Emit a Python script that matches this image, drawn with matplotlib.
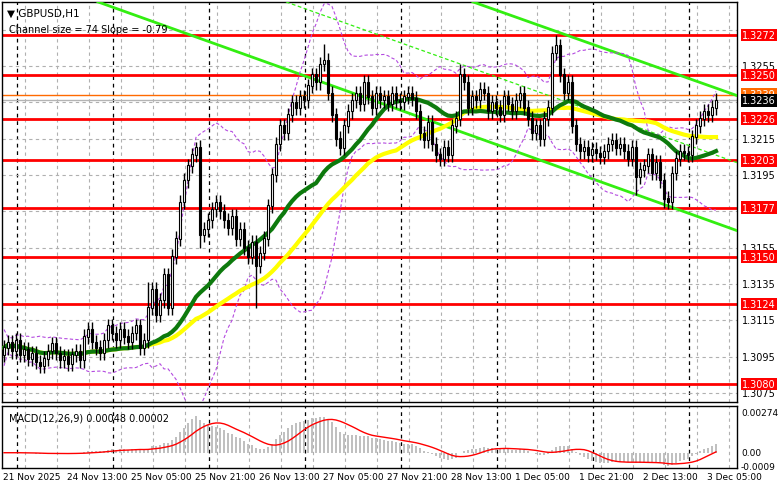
import matplotlib
matplotlib.use('Agg')
import matplotlib.pyplot as plt
import matplotlib.transforms as mtransforms
import numpy as np
import pandas as pd

# hourly closes, GBPUSD H1
closes = [
    1.3100, 1.3103, 1.3098, 1.3104, 1.3096, 1.3099, 1.3094, 1.3097, 1.3092, 1.3090,
    1.3094, 1.3098, 1.3102, 1.3097, 1.3093, 1.3095, 1.3091, 1.3096, 1.3098, 1.3093,
    1.3106, 1.3110, 1.3103, 1.3100, 1.3097, 1.3104, 1.3112, 1.3108, 1.3104, 1.3110,
    1.3106, 1.3103, 1.3108, 1.3112, 1.3100, 1.3104,
    1.3122, 1.3132, 1.3118, 1.3126, 1.3140, 1.3122, 1.3150, 1.3160,
    1.3180, 1.3192, 1.3200, 1.3206, 1.3210, 1.3162,
    1.3165, 1.3170, 1.3176, 1.3180, 1.3175, 1.3170, 1.3166,
    1.3172, 1.3160, 1.3165, 1.3155, 1.3150, 1.3158, 1.3145, 1.3152, 1.3160,
    1.3178, 1.3195, 1.3212, 1.3222, 1.3218, 1.3228, 1.3235,
    1.3232, 1.3238, 1.3236, 1.3244, 1.3250, 1.3246, 1.3256, 1.3258,
    1.3240, 1.3228, 1.3215, 1.3210, 1.3222, 1.3230,
    1.3236, 1.3240, 1.3234, 1.3246, 1.3238, 1.3232, 1.3240, 1.3236, 1.3238, 1.3234,
    1.3240, 1.3236, 1.3235, 1.3238, 1.3240, 1.3237, 1.3230, 1.3218, 1.3214, 1.3224,
    1.3212, 1.3206, 1.3204, 1.3210, 1.3206, 1.3222, 1.3226,
    1.3250, 1.3246, 1.3232,
    1.3238, 1.3236, 1.3242, 1.3240, 1.3230, 1.3235, 1.3232, 1.3228, 1.3238, 1.3234,
    1.3230, 1.3236, 1.3240,
    1.3232, 1.3226, 1.3218, 1.3222, 1.3215, 1.3226, 1.3232,
    1.3262, 1.3266,
    1.3250, 1.3240, 1.3246, 1.3222, 1.3212,
    1.3208, 1.3210, 1.3206, 1.3209, 1.3207, 1.3205, 1.3208,
    1.3212, 1.3214, 1.3210, 1.3212, 1.3208, 1.3204, 1.3210,
    1.3194, 1.3198, 1.3200, 1.3206, 1.3196, 1.3202, 1.3192,
    1.3182, 1.3180, 1.3196, 1.3204, 1.3208,
    1.3207, 1.3206, 1.3216, 1.3222, 1.3226, 1.3230, 1.3228, 1.3232, 1.3236,
]
first_open = 1.3096
wick = 0.0004
# notable wicks: bar index -> (high, low)
spikes = {48: (1.3213, None), 49: (None, 1.3155), 63: (None, 1.3122),
          80: (1.3267, None), 114: (1.3256, None), 138: (1.3272, None),
          158: (None, 1.3184), 165: (None, 1.3177), 36: (1.3136, None)}

levels = [1.3272, 1.3250, 1.3226, 1.3203, 1.3177, 1.3150, 1.3124, 1.3080]
axis_ticks = [1.3275, 1.3255, 1.3235, 1.3215, 1.3195, 1.3175, 1.3155, 1.3135, 1.3115, 1.3095, 1.3075]
axis_labels_shown = [1.3255, 1.3215, 1.3195, 1.3155, 1.3135, 1.3115, 1.3095, 1.3075]
ask_price = 1.3239
bid_price = 1.3236

date_labels = ['21 Nov 2025', '24 Nov 13:00', '25 Nov 05:00', '25 Nov 21:00', '26 Nov 13:00',
               '27 Nov 05:00', '27 Nov 21:00', '28 Nov 13:00', '1 Dec 05:00', '1 Dec 21:00',
               '2 Dec 13:00', '3 Dec 05:00']
date_bars = [0, 16, 32, 48, 64, 80, 96, 112, 128, 144, 160, 176]

# regression channel end points (bar index, price)
chan_upper = [(117.25, 1.32902), (184.25, 1.32379)]
chan_lower = [(23.5, 1.32902), (184.25, 1.31636)]
chan_mid = [(70.5, 1.32902), (184.25, 1.32010)]

c = np.array(closes)
o = np.concatenate([[first_open], c[:-1]])
n = len(c)
idx = np.arange(n)
hi = np.maximum(o, c) + wick
lo = np.minimum(o, c) - wick
for k, (h, l) in spikes.items():
    if h: hi[k] = h
    if l: lo[k] = l

s = pd.Series(c)
ma_fast = s.rolling(30, min_periods=1).mean()
ma_slow = s.rolling(50, min_periods=1).mean()
bb_mid = s.rolling(20, min_periods=1).mean()
bb_sd = s.rolling(20, min_periods=2).std().fillna(0.0005)
ema12 = s.ewm(span=12).mean()
ema26 = s.ewm(span=26).mean()
macd = ema12 - ema26
signal = macd.rolling(9, min_periods=1).mean()

W, H = 781, 489
fig = plt.figure(figsize=(W / 100, H / 100), dpi=100)
ax = fig.add_axes([2 / W, (H - 403) / H, 735 / W, 400 / H])
axm = fig.add_axes([2 / W, (H - 469) / H, 735 / W, 62 / H], sharex=ax)

ppx = 18177.0
ax.set_ylim(1.3272 - 367 / ppx, 1.3272 + 33 / ppx)
ax.set_xlim(-0.5, -0.5 + 735 / 4)

# grid
for a in (ax, axm):
    for gx in np.arange(-3, 184, 8):
        a.axvline(gx + 0.25, color='#b0b0b0', lw=0.8, ls=(0, (3, 3)), zorder=0)
    for gx in np.arange(3.25, 184, 24):
        a.axvline(gx, color='black', lw=0.9, ls=(0, (3, 3)), zorder=0)
for t in axis_ticks:
    ax.axhline(t, color='#b0b0b0', lw=0.8, ls=(0, (3, 3)), zorder=0)

# levels
for lv in levels:
    ax.axhline(lv, color='#ff0000', lw=2, zorder=2)
ax.axhline(ask_price, color='#ff6a00', lw=1, zorder=2)
ax.axhline(bid_price, color='#b4b4b4', lw=1, zorder=2)

# channel
for pts, ls, lw in ((chan_upper, '-', 2), (chan_lower, '-', 2), (chan_mid, (0, (3, 2)), 0.9)):
    (x0, y0), (x1, y1) = pts
    xe = 184
    ye = y0 + (y1 - y0) * (xe - x0) / (x1 - x0)
    ax.plot([x0, xe], [y0, ye], color='#33ee11', lw=lw, ls=ls, zorder=3)

# envelopes and MAs
ax.plot(idx, bb_mid + 2 * bb_sd, color='#b44be0', lw=0.8, ls=(0, (3, 2)), zorder=3)
ax.plot(idx, bb_mid - 2 * bb_sd, color='#b44be0', lw=0.8, ls=(0, (3, 2)), zorder=3)
ax.plot(idx, ma_slow, color='#ffff00', lw=3, zorder=4)
ax.plot(idx, ma_fast, color='#0d7a0d', lw=3, zorder=4)

# candles
up = c >= o
ax.vlines(idx, lo, hi, color='black', lw=1, zorder=5)
ax.bar(idx[up], (c - o)[up] + 0.00003, bottom=o[up], width=0.7, color='white',
       edgecolor='black', lw=0.8, zorder=6)
ax.bar(idx[~up], (o - c)[~up] + 0.00003, bottom=c[~up], width=0.7, color='black',
       edgecolor='black', lw=0.8, zorder=6)

for a in (ax, axm):
    a.set_xticks([])
    a.set_yticks([])
    for sp in a.spines.values():
        sp.set_color('black')
        sp.set_linewidth(1)

# right price scale
fs = 7
tr = mtransforms.blended_transform_factory(fig.transFigure, ax.transData)
for t in axis_labels_shown:
    fig.text(742 / W, t, f'{t:.4f}', transform=tr, fontsize=fs, va='center', ha='left')
for lv in levels:
    fig.text(742 / W, lv, f'{lv:.4f}', transform=tr, fontsize=fs, va='center', ha='left',
             color='white', bbox=dict(boxstyle='square,pad=0.15', fc='#ff0000', ec='none'))
# ask label sits partly hidden behind the bid label
fig.text(742 / W, ask_price + 0.00004, f'{ask_price:.4f}', transform=tr, fontsize=fs,
         va='center', ha='left', color='white', zorder=1,
         bbox=dict(boxstyle='square,pad=0.15', fc='#ff6a00', ec='none'))
fig.text(742 / W, bid_price, f'{bid_price:.4f}', transform=tr, fontsize=fs, va='center',
         ha='left', color='white', zorder=2,
         bbox=dict(boxstyle='square,pad=0.15', fc='black', ec='none'))

ax.text(0.007, 0.985, '\u25bc GBPUSD,H1', transform=ax.transAxes, fontsize=7.5, va='top')
ax.text(0.009, 0.945, 'Channel size = 74 Slope = -0.79', transform=ax.transAxes,
        fontsize=7, va='top')

# MACD
axm.bar(idx, macd, width=0.6, color='#c0c0c0', zorder=2)
axm.plot(idx, signal, color='#ff0000', lw=1, zorder=3)
axm.set_ylim(-0.00103, 0.00315)
axm.text(0.01, 0.9, 'MACD(12,26,9) 0.00048 0.00002', transform=axm.transAxes,
         fontsize=7, va='top')
trm = mtransforms.blended_transform_factory(fig.transFigure, axm.transData)
for v, lab in ((0.00274, '0.00274'), (0.0, '0.00'), (-0.0009, '-0.0009')):
    fig.text(741 / W, v, lab, transform=trm, fontsize=6.5, va='center', ha='left')

trx = mtransforms.blended_transform_factory(axm.transData, fig.transFigure)
for b, lab in zip(date_bars, date_labels):
    fig.text(b - 0.3, 1 - 478 / H, lab, transform=trx, fontsize=6.5, va='center', ha='left')

fig.savefig('out.png', dpi=100, facecolor='white')
